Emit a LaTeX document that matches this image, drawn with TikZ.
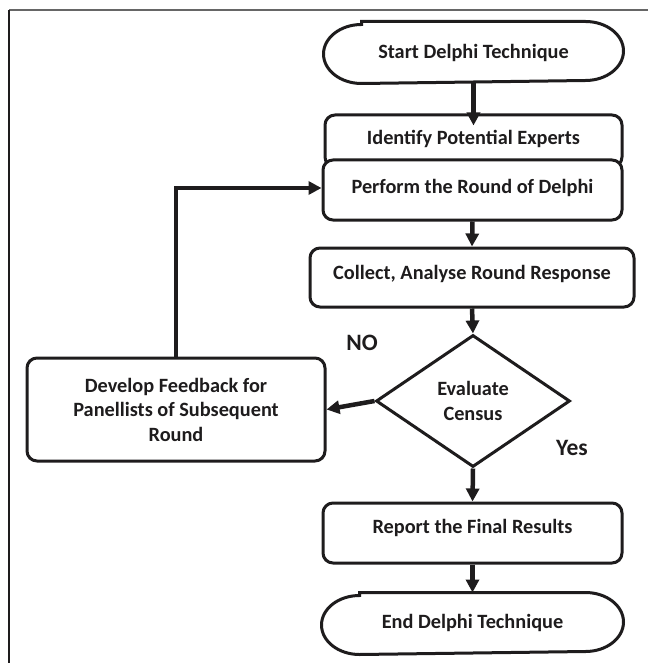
\documentclass[tikz,border=0pt]{standalone}
\usepackage{fontspec}
\setmainfont{Carlito}
\usetikzlibrary{shapes.geometric,arrows.meta}
\definecolor{ink}{HTML}{1E1C1D}
\tikzset{
  base/.style={draw=ink, line width=3pt, fill=white, text=ink, inner sep=0pt, align=center,
    font=\fontsize{20.3}{24.5}\selectfont\bfseries},
  box/.style={base, rectangle, rounded corners=10pt},
  term/.style={base, rectangle, draw=none},
  termline/.style={draw=ink, line width=3pt},
  decision/.style={base, diamond, inner sep=0pt},
  lift/.style={text height=14pt, text depth=#1},
  flow/.style={draw=ink, line width=4.5pt, -{Triangle[length=13pt,width=13pt]}},
  lab/.style={text=ink, font=\fontsize{23.5}{28}\selectfont\bfseries, inner sep=0pt},
}
\newcommand\termoutline[1]{%
  \draw[termline] ([xshift=38pt]#1.north west) -- ([xshift=-38pt]#1.north east)
    arc[start angle=90, end angle=-90, x radius=38pt, y radius=29.5pt]
    -- ([xshift=38pt]#1.south west)
    arc[start angle=270, end angle=90, x radius=38pt, y radius=29.5pt] -- cycle;}
\begin{document}
\begin{tikzpicture}[x=1pt,y=-1pt]
\useasboundingbox (0,0) rectangle (648,663);
% frame
\draw[color=black!60, line width=2pt] (9,10) -- (648,10);
\draw[color=ink, line width=2pt] (9,10) -- (9,663);

\node[term, lift=1pt, minimum width=297pt, minimum height=59pt] (start) at (473.5,52.5) {Start Delphi Technique};
\termoutline{start}
\node[box, lift=7pt, minimum width=297pt, minimum height=52pt] (ident) at (473.5,141) {Identify Potential Experts};
\node[box, lift=7pt, minimum width=299pt, minimum height=60pt] (perform) at (472.5,190) {Perform the Round of Delphi};
\node[box, lift=10pt, minimum width=324pt, minimum height=59pt] (collect) at (472,277.5) {Collect, Analyse Round Response};
\node[decision, minimum width=194pt, minimum height=132pt] (eval) at (473,401) {Evaluate\\Census};
\node[box, minimum width=298pt, minimum height=103pt] (develop) at (176,409.5) {Develop Feedback for\\Panellists of Subsequent\\Round};
\node[box, lift=13pt, minimum width=299pt, minimum height=60pt] (report) at (472.5,533) {Report the Final Results};
\node[term, lift=4pt, minimum width=299pt, minimum height=59pt] (end) at (472.5,623.5) {End Delphi Technique};
\termoutline{end}

\node[lab] (no) at (362,343) {NO};
\node[lab] (yes) at (572,448) {Yes};

\draw[flow] (start.south) -- ([yshift=-12pt]ident.north);
\draw[flow] (perform.south) -- (collect.north);
\draw[flow] (collect.south) -- (eval.north);
\draw[flow] (eval.west) -- (develop.east);
\draw[flow] (develop.north) |- ([yshift=2pt]perform.west);
\draw[flow] (eval.south) -- (report.north);
\draw[flow] (report.south) -- (end.north);
\end{tikzpicture}
\end{document}
